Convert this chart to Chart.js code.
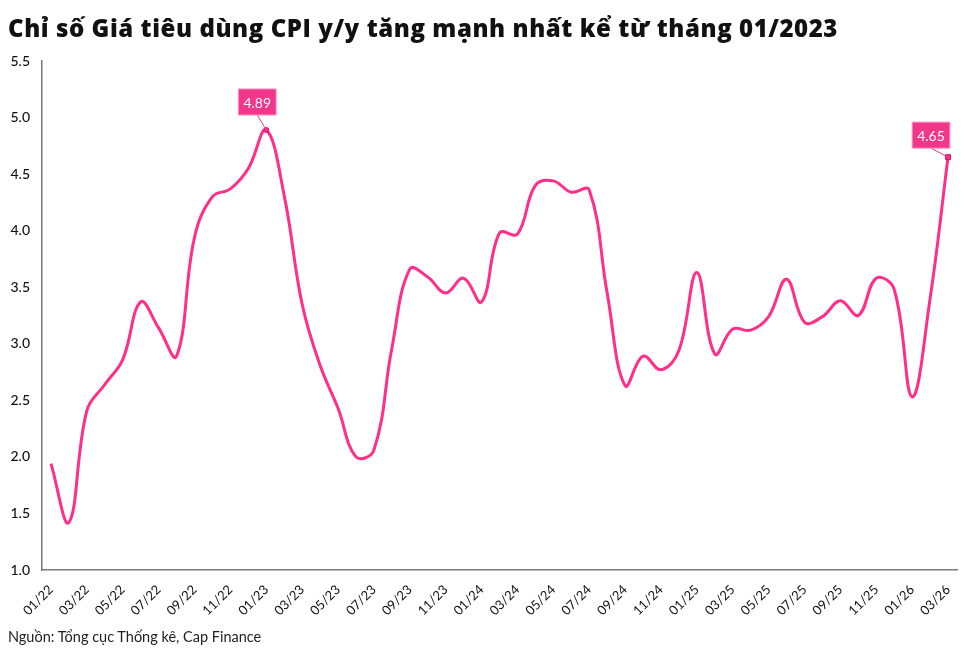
<!DOCTYPE html>
<html>
<head>
<meta charset="utf-8">
<script src="https://cdn.jsdelivr.net/npm/chart.js@4"></script>
<style>
  body { margin: 0; background: #fff; }
  #wrap { position: relative; width: 975px; height: 650px; }
  #title { position: absolute; left: 8px; top: 11px; font-family: 'Open Sans', sans-serif; font-weight: 800; font-size: 24px; color: #111; white-space: nowrap; }
  #source { position: absolute; left: 8px; top: 628px; font-family: 'Lato', sans-serif; font-size: 14.5px; color: #222; white-space: nowrap; }
  canvas { position: absolute; left: 0; top: 0; }
</style>
</head>
<body>
<div id="wrap">
  <canvas id="myChart" width="975" height="650"></canvas>
  <div id="title">Chỉ số Giá tiêu dùng CPI y/y tăng mạnh nhất kể từ tháng 01/2023</div>
  <div id="source">Nguồn: Tổng cục Thống kê, Cap Finance</div>
</div>
<script>
const months = [
    '01/22','02/22','03/22','04/22','05/22','06/22','07/22','08/22','09/22','10/22','11/22','12/22',
    '01/23','02/23','03/23','04/23','05/23','06/23','07/23','08/23','09/23','10/23','11/23','12/23',
    '01/24','02/24','03/24','04/24','05/24','06/24','07/24','08/24','09/24','10/24','11/24','12/24',
    '01/25','02/25','03/25','04/25','05/25','06/25','07/25','08/25','09/25','10/25','11/25','12/25',
    '01/26','02/26','03/26'
];
const cpi = [
    1.94, 1.42, 2.41, 2.64, 2.86, 3.37, 3.14, 2.89, 3.94, 4.30, 4.37, 4.55,
    4.89, 4.31, 3.35, 2.81, 2.43, 2.00, 2.06, 2.96, 3.66, 3.59, 3.45, 3.58,
    3.37, 3.98, 3.97, 4.40, 4.44, 4.34, 4.36, 3.45, 2.63, 2.89, 2.77, 2.94,
    3.63, 2.91, 3.13, 3.12, 3.24, 3.57, 3.19, 3.24, 3.38, 3.25, 3.58, 3.48,
    2.53, 3.40, 4.65
];
const yTicks = [1.0, 1.5, 2.0, 2.5, 3.0, 3.5, 4.0, 4.5, 5.0, 5.5];
// labelled points: index and box offset (box bottom-centre relative to point)
const callouts = [
    { idx: 12, dx: -9, dy: -15 },
    { idx: 50, dx: -17, dy: -9 }
];

const pink = '#FF2F89';
const boxPink = '#F2368A';

// stretch the title to the width it has in the original
const title = document.getElementById('title');
const tw = title.getBoundingClientRect().width;
title.style.letterSpacing = ((830 - tw) / title.textContent.length) + 'px';

const calloutPlugin = {
    id: 'callouts',
    afterDatasetsDraw(chart) {
        const c = chart.ctx;
        const xs = chart.scales.x, ys = chart.scales.y;
        callouts.forEach(cl => {
            const px = xs.getPixelForValue(cl.idx);
            const py = ys.getPixelForValue(cpi[cl.idx]);
            const bx = px + cl.dx, by = py + cl.dy;
            const txt = cpi[cl.idx].toFixed(2);
            c.save();
            c.strokeStyle = boxPink;
            c.lineWidth = 1;
            c.beginPath();
            c.moveTo(bx, by);
            c.lineTo(px, py);
            c.stroke();
            c.font = "14px 'Lato', sans-serif";
            const w = c.measureText(txt).width + 10;
            const h = 26;
            c.fillStyle = boxPink;
            c.fillRect(bx - w / 2, by - h, w, h);
            c.strokeStyle = '#FF8FC0';
            c.strokeRect(bx - w / 2, by - h, w, h);
            c.fillStyle = '#fff';
            c.textAlign = 'center';
            c.textBaseline = 'middle';
            c.fillText(txt, bx, by - h / 2 + 1);
            c.restore();
        });
    }
};

const ctx = document.getElementById('myChart').getContext('2d');
const myChart = new Chart(ctx, {
    type: 'line',
    data: {
        labels: months,
        datasets: [{
            data: cpi,
            borderColor: pink,
            borderWidth: 3,
            tension: 0.4,
            pointRadius: (c) => c.dataIndex === 50 ? 3.5 : (c.dataIndex === 12 ? 2.5 : 0),
            pointStyle: (c) => c.dataIndex === 50 ? 'rect' : 'circle',
            pointBackgroundColor: pink,
            pointBorderColor: '#D01870',
            pointBorderWidth: 1
        }]
    },
    options: {
        responsive: false,
        animation: false,
        layout: { padding: { top: 61, right: 18, left: 0, bottom: 0 } },
        scales: {
            x: {
                offset: true,
                afterFit: (s) => { s.height = 80; },
                grid: { display: false, drawTicks: false },
                border: { color: '#7a7a7a', width: 1.5 },
                ticks: {
                    autoSkip: false,
                    maxRotation: 45,
                    minRotation: 45,
                    padding: 12,
                    color: '#111',
                    font: { family: "'Lato', sans-serif", size: 13 },
                    callback: function(v, i) { return i % 2 === 0 ? months[i] : ''; }
                }
            },
            y: {
                min: 1.0,
                max: 5.5,
                afterFit: (s) => { s.width = 42; },
                afterBuildTicks: (s) => { s.ticks = yTicks.map(v => ({ value: v })); },
                grid: { display: false, drawTicks: false },
                border: { color: '#7a7a7a', width: 1.5 },
                ticks: {
                    padding: 12,
                    color: '#111',
                    font: { family: "'Lato', sans-serif", size: 14, weight: '500' },
                    callback: (v) => v.toFixed(1)
                }
            }
        },
        plugins: {
            legend: { display: false },
            tooltip: { enabled: false }
        }
    },
    plugins: [calloutPlugin]
});
</script>
</body>
</html>
